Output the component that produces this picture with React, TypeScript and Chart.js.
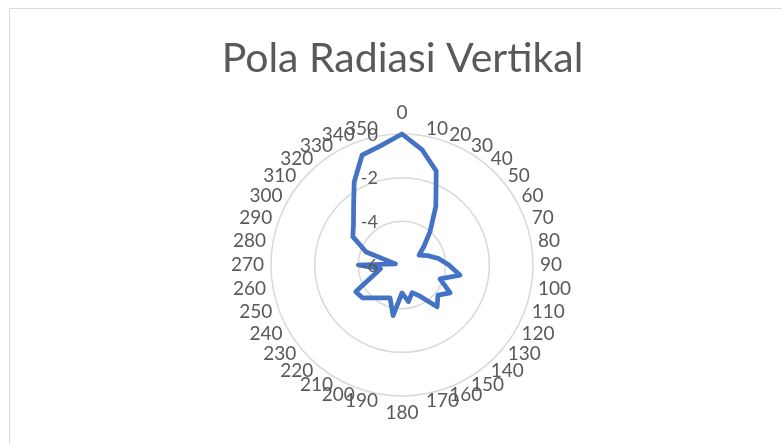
import React, { useEffect, useRef } from "react";
import { Chart, registerables } from "chart.js";

Chart.register(...registerables);

const chartTitle = "Pola Radiasi Vertikal";

const angleLabels = [
  "0", "10", "20", "30", "40", "50", "60", "70", "80", "90",
  "100", "110", "120", "130", "140", "150", "160", "170", "180",
  "190", "200", "210", "220", "230", "240", "250", "260", "270",
  "280", "290", "300", "310", "320", "330", "340", "350",
];

const gainDb = [
  0, -0.65, -1.42, -2.9, -4.0, -4.7, -5.1, -4.75, -4.3, -3.85,
  -3.3, -4.15, -3.45, -3.85, -3.5, -4.35, -4.65, -4.3, -4.72,
  -3.65, -4.4, -4.26, -4.03, -3.65, -3.55, -4.6, -5.0, -4.0,
  -5.7, -4.25, -3.4, -3.1, -2.55, -1.62, -0.65, -0.45,
];

const radialMin = -6;
const radialMax = 0;
const radialStep = 2;

const textColor = "#595959";
const lineColor = "#4472C4";
const gridColor = "#d9d9d9";

export default function App() {
  const ref = useRef<HTMLCanvasElement>(null);

  useEffect(() => {
    if (!ref.current) return;

    // Excel-style labels: radial tick labels to the left of the axis,
    // category labels anchored at their edge and vertically centred.
    const excelLabels = {
      id: "excelLabels",
      afterDatasetsDraw(chart: any) {
        const s = chart.scales.r;
        const ctx = chart.ctx;
        ctx.save();
        ctx.fillStyle = textColor;

        ctx.font = "18px Lato";
        ctx.textAlign = "right";
        ctx.textBaseline = "middle";
        s.ticks.forEach((t: any) => {
          const d = s.getDistanceFromCenterForValue(t.value);
          ctx.fillText(t.label, s.xCenter - 24, s.yCenter - d + 1);
        });

        ctx.font = "19px Lato";
        const R = s.drawingArea + 7;
        angleLabels.forEach((lab, i) => {
          const a = s.getIndexAngle(i);
          const sn = Math.sin(a);
          const cs = Math.cos(a);
          let dist = R;
          let baseline: CanvasTextBaseline = "middle";
          if (cs > 0.999) {
            baseline = "bottom";
            dist = R + 5;
          } else if (cs < -0.999) {
            baseline = "top";
            dist = R;
          }
          const p = s.getPointPosition(i, dist);
          ctx.textAlign = Math.abs(sn) < 0.001 ? "center" : sn > 0 ? "left" : "right";
          ctx.textBaseline = baseline;
          ctx.fillText(lab, p.x, p.y);
        });
        ctx.restore();
      },
    };

    const chart = new Chart(ref.current, {
      type: "radar",
      data: {
        labels: angleLabels,
        datasets: [
          {
            data: gainDb,
            borderColor: lineColor,
            backgroundColor: "transparent",
            borderWidth: 4.75,
            pointRadius: 0,
            pointHoverRadius: 0,
            fill: false,
            tension: 0,
            borderJoinStyle: "round",
            borderCapStyle: "round",
          } as any,
        ],
      },
      options: {
        animation: false,
        responsive: false,
        maintainAspectRatio: false,
        layout: { padding: { top: 0, bottom: 63, left: 0, right: 0 } },
        plugins: {
          legend: { display: false },
          tooltip: { enabled: false },
          title: {
            display: true,
            text: chartTitle,
            color: textColor,
            font: { family: "Lato", size: 41, weight: "normal" },
            padding: { top: 25, bottom: 50.8 },
          },
        },
        scales: {
          r: {
            min: radialMin,
            max: radialMax,
            ticks: { stepSize: radialStep, display: false },
            grid: { circular: true, color: gridColor, lineWidth: 1.5 },
            angleLines: { display: false },
            pointLabels: { display: false },
          },
        },
      },
      plugins: [excelLabels],
    });
    return () => chart.destroy();
  }, []);

  return (
    <div
      style={{
        position: "fixed",
        left: 0,
        top: 0,
        width: 782,
        height: 444,
        overflow: "hidden",
        background: "#fff",
      }}
    >
      <div
        style={{
          position: "absolute",
          left: 9,
          top: 8,
          width: 785,
          height: 450,
          border: "1px solid #d9d9d9",
          background: "#fff",
        }}
      >
        <canvas ref={ref} width={785} height={450} style={{ display: "block" }} />
      </div>
    </div>
  );
}
